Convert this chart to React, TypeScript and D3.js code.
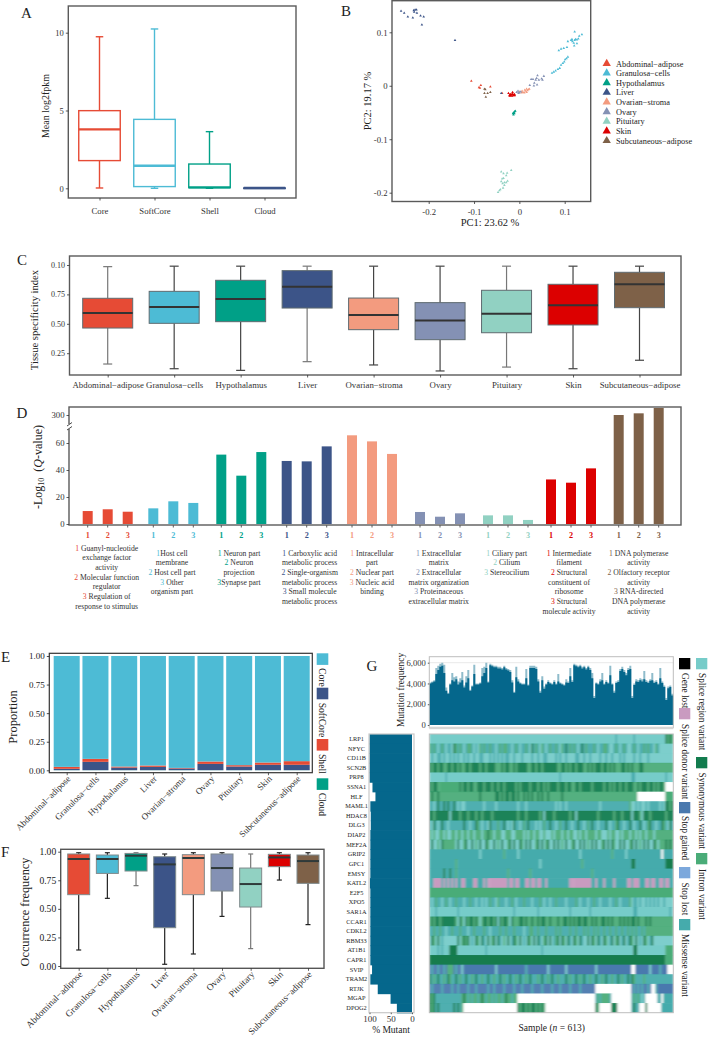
import React, { useLayoutEffect, useRef } from "react";
import * as d3 from "d3";

const FONT = "'Liberation Serif','Times New Roman',serif";
const TISSUES = ["Abdominal−adipose","Granulosa−cells","Hypothalamus","Liver","Ovarian−stroma","Ovary","Pituitary","Skin","Subcutaneous−adipose"];
const TISSUE_COLORS = ["#E64B35","#4DBBD5","#00A087","#3C5488","#F39B7F","#8491B4","#91D1C2","#DC0000","#7E6148"];

// A
const PAN_GROUPS = ["Core","SoftCore","Shell","Cloud"];
const PAN_COLORS = ["#E64B35","#4DBBD5","#00A087","#3C5488"];
const PAN_LOW = [0.02,0.0,0.0,0.02];
const PAN_Q1 = [1.78,0.11,0.04,0.02];
const PAN_MED = [3.79,1.45,0.06,0.02];
const PAN_Q3 = [4.99,4.43,1.56,0.02];
const PAN_HIGH = [9.74,10.24,3.64,0.02];

// B
const PCA_POINTS: number[][][] = [
  [[-.106,.009],[-.085,.001],[-.089,-.003],[-.087,-.004],[-.064,-.002],[-.038,-.014],[-.020,-.017],[-.016,-.015]],
  [[.072,.024],[.076,.026],[.080,.028],[.085,.031],[.089,.033],[.092,.039],[.096,.042],[.099,.045],[.101,.049],[.104,.051],[.107,.054],[.087,.066],[.092,.069],[.098,.070],[.105,.072],[.107,.083],[.114,.085],[.117,.083],[.120,.080],[.122,.085],[.124,.087],[.127,.086],[.130,.088],[.122,.101],[.138,.096],[.121,.075],[.127,.079],[.132,.093],[.116,.087]],
  [[-.014,-.052],[-.012,-.050],[-.010,-.048],[-.013,-.054],[-.011,-.052],[-.013,-.051],[-.009,-.047]],
  [[-.261,.140],[-.254,.136],[-.246,.129],[-.235,.127],[-.233,.141],[-.230,.142],[-.227,.142],[-.232,.138],[-.226,.136],[-.218,.131],[-.211,.129],[-.215,.114],[-.142,.085],[-.040,-.014]],
  [[0,-.011],[.005,-.013],[.008,-.012],[.011,-.013],[.014,-.010],[.016,-.012],[.018,-.009],[.020,-.007],[.012,-.008],[.022,-.006],[.016,-.006],[.006,-.010]],
  [[-.006,-.012],[-.003,-.010],[0,-.013],[.003,-.011],[-.002,-.014],[.026,.012],[.030,.012],[.040,.019],[.038,.014],[.043,.011],[.051,.011],[.054,.018],[.033,.005],[.032,0],[.039,.002],[.023,.001],[.049,.013],[.036,.011]],
  [[-.018,-.158],[-.040,-.161],[-.035,-.164],[-.027,-.163],[-.029,-.168],[-.038,-.174],[-.035,-.173],[-.026,-.178],[-.040,-.179],[-.033,-.181],[-.037,-.183],[-.029,-.181],[-.036,-.191],[-.042,-.194],[-.047,-.199],[-.044,-.196],[-.033,-.186]],
  [[-.022,-.018],[-.020,-.016],[-.018,-.017],[-.015,-.016],[-.013,-.018],[-.011,-.016],[-.016,-.019],[-.021,-.019],[-.019,-.018],[-.012,-.017],[-.010,-.018],[-.024,-.014],[-.015,-.012]],
  [[-.077,-.006],[-.075,-.007],[-.077,-.014],[-.064,-.012],[-.070,-.014],[-.074,-.021]],
];

// C
const TSI_LOW = [.158,.118,.104,.178,.150,.099,.132,.118,.190];
const TSI_Q1 = [.464,.504,.518,.634,.450,.365,.424,.490,.637];
const TSI_MED = [.592,.643,.711,.815,.575,.527,.586,.657,.836];
const TSI_Q3 = [.717,.776,.870,.952,.719,.680,.785,.836,.938];
const TSI_HIGH = [.986,.990,.990,.990,.990,.990,.990,.990,.990];
const TSI_TICKS = [0.25,0.5,0.75,1];
const TSI_TICK_LABELS = ["0.25","0.50","0.75","0.10"];

// D
const GO_VALUES = [
  [9.6,10.9,9.1],[11.6,16.8,15.6],[51.4,35.8,53.3],[46.7,46.4,57.5],[65.7,61.2,51.9],
  [8.9,5.4,7.9],[6.4,6.4,3.0],[33,30.6,41.2],[300,306,325],
];
const GO_TICKS = [0,20,40,60,300];
const GO_RANKS = ["1","2","3"];
const GO_TERMS = [
  ["1 Guanyl-nucleotide","exchange factor","activity","2 Molecular function","regulator","3 Regulation of","response to stimulus"],
  ["1Host cell","membrane","2 Host cell part","3 Other","organism part"],
  ["1 Neuron part","2 Neuron","projection","3Synapse part"],
  ["1 Carboxylic acid","metabolic process","2 Single-organism","metabolic process","3 Small molecule","metabolic process"],
  ["1 Intracellular","part","2 Nuclear part","3 Nucleic acid","binding"],
  ["1 Extracellular","matrix","2 Extracellular","matrix organization","3 Proteinaceous","extracellular matrix"],
  ["1 Ciliary part","2 Cilium","3 Stereocilium"],
  ["1 Intermediate","filament","2 Structural","constituent of","ribosome","3 Structural","molecule activity"],
  ["1 DNA polymerase","activity","2 Olfactory receptor","activity","3 RNA-directed","DNA polymerase","activity"],
];

// E
const PROP_KEYS = ["Cloud","SoftCore","Shell","Core"];
const PROP_COLORS: Record<string,string> = { Core:"#4DBBD5", SoftCore:"#3C5488", Shell:"#E64B35", Cloud:"#00A087" };
const PROP_CLOUD = [.001,.001,.001,.001,.001,.001,.001,.001,.001];
const PROP_SOFT = [.012,.073,.023,.029,.015,.055,.032,.047,.047];
const PROP_SHELL = [.017,.026,.009,.012,.005,.021,.012,.020,.032];
const PROP_CORE = [.970,.900,.967,.958,.979,.923,.955,.932,.920];
const PROP_LEGEND = ["Core","SoftCore","Shell","Cloud"];

// F
const OCC_LOW = [.140,.592,.703,.015,.105,.434,.152,.752,.362];
const OCC_Q1 = [.624,.810,.831,.335,.624,.656,.516,.869,.723];
const OCC_MED = [.936,.936,.965,.889,.945,.857,.717,.950,.918];
const OCC_Q3 = [.980,.971,.985,.956,.974,.980,.857,.977,.971];
const OCC_HIGH = [.991,.991,.991,.980,.991,.991,.980,.991,.991];

// G
const MUT_PEAK = [
  4100,4200,4300,5500,5700,5900,6000,5800,3600,3100,
  4000,5000,4600,4700,4200,4500,5100,3800,4700,5300,
  3400,3800,5800,4000,4000,4100,5500,5600,6000,4200,
  5900,5800,5700,5700,5600,5600,5500,5700,5500,5400,
  5300,4300,3200,5600,4400,4100,4000,4000,5400,3900,
  5700,5700,5700,5600,4400,3300,4700,3700,4000,4300,
  4100,4000,4300,4000,4900,4100,4000,3900,4400,4200,
  5500,4300,5900,5800,5700,5800,5600,5700,5500,5700,
  5500,5000,2800,4100,4000,4400,5000,4000,4300,4100,
  5700,4000,3300,4200,4300,5400,5600,5300,5000,5500,
  5700,2800,4000,4400,4300,4500,4400,5200,4300,4200,
  4400,5000,4200,4300,4000,5500,4200,3800,2600,3700,3800,3000,
];
const MUT_BASE = [
  4000,4100,4200,4900,5300,5600,5700,5000,3300,3000,
  3900,4300,4200,4400,3900,4100,4300,3600,4100,4500,
  3300,3700,4900,3900,3900,4000,4700,5000,5500,4100,
  5750,5650,5550,5550,5450,5450,5350,5550,5350,5250,
  5100,4100,3100,4600,4200,4000,3900,3900,4500,3800,
  5500,5500,5500,5400,4200,3100,4300,3500,3900,4150,
  4000,3900,4150,3900,4200,4000,3900,3800,4100,4050,
  4700,4150,5750,5650,5550,5650,5450,5550,5350,5550,
  5300,4500,2600,4000,3900,4200,4300,3900,4150,4000,
  4800,3900,3100,4050,4150,5200,5400,5100,4800,5300,
  5400,2600,3850,4200,4150,4300,4200,4400,4150,4050,
  4250,4300,4050,4150,3900,4500,4050,3650,2400,3550,3650,2850,
];
const MUT_TICKS = [0,2000,4000,6000];
const GENES = ["LRP1","NFYC","CD11B","SCN2B","PRP8","SSNA1","HLF","MAML1","HDAC8","DLG3","DIAP2","MEF2A","GRIP2","GPC1","EMSY","KATL2","E2F5","XPO5","SAR1A","CCAR1","CDKL2","RBM33","AT1B1","CAPR1","SVIP","TRAM2","RTJK","MGAP","DPOG2"];
const GENE_PCT = [100,100,100,100,100,93,86,98,97,97,98,98,98,98,98,99,98,98,98,98,98,98,98,98,94,98,80.6,50.4,35.6];
const VARIANT_COLORS: Record<string,string> = { R:"#76CCC9", S:"#127C4E", I:"#4AAC78", M:"#45ABAC", P:"#4A79AE", D:"#C99BC0", L:"#7CA8DC", X:"#000000", W:"#FFFFFF" };
const VARIANT_LEGEND = [
  ["Gene lost","X",0,658,673],["Splice region variant","R",1,658,673],
  ["Splice donor variant","D",0,708,724],["Synonymous variant","S",1,757,772.5],
  ["Stop gained","P",0,802,816],["Intron variant","I",1,853,869],
  ["Stop lost","L",0,867,882.5],["Missense variant","M",0,919,934],
];
const ONCO_ROWS = [
  "R93 M1 R8 M1 R15 S1 I1 S1 I1",
  "IMIMRMIMRM MRSIMIMRMI IMRMRIMIMM IMMRMIMIIM MRMIMRMMIM RSMIMRIMRM IMMIMRIMSM IMIMRMSMIM MMIMRMMIIM RRMIMRMIMR RMIMRMMIMI MMRIMRRRRR RR",
  "RMRRMMRMRR MRMRMRRMRM RRMRRMMRRR MRMRMRMRMM RRMRRRMRRR RMRRMRRMMR RRRMRMRRMR RRRMMRRMRR MRRRRMRRMR RMRRRMRMRR RRMRRMRRRM RRRRRRRRRR RR",
  "SISSISSIIS SISSISIISS ISSSSISSIS SSSIIISISS IISISSSSSI ISSISSISSS SSSSIISSIS ISSISSSIIS ISISSSISSI SISIIISSIS ISIIISSIII IIIIIIIIII II",
  "R8 M1 R56 M1 R35 M2 R15 M1 R3",
  "SISSI I10 SISSISSIIS SSISSSISSI SSISSSSSIS ISSSSISSSI SSISISSSSI SSSISSIISS ISSSSSISSS SSISSISISS ISSISSSIIS ISSSISSISI SSI W4",
  "ISIISIIIII IIIIIIIIII IIIIISIIII IIISSISISS ISSISIISIS ISIISISIIS IIIIIISIII IIIIIIIIII IIIIIIIIII IIIIIIIIII IIII W14 I4",
  "MMRMSMMSMS MMSMRMRRMM MMMMMMMRMM MMMRMMMMMM MMMMRMMMRM MMMMMMMMMM MMMRMRMMRM MMMMMMMMMM MMMMMRMMMM MMMMMMMMMM IRRMRMRRMR MMMMMRMRSS IS",
  "SSISSSSSSS RSSSSISSSI SSSISSISSS SISSSSSSSS SSSSISSSIS SSSSSISRSS SSISSSSSSS ISSRSSSSSS SSSSISSSSS SSISSSISSS SRSSSIRSSS ISSSSSSSIS SS",
  "MRSMRMSMMR MMMMMMMSMM RMMSIMRMMR SMMMIMMSMR MRSMMRMIMS MMMRMRMIMM SMMRMIMMSM MRMMSMMRMI MSMMRMMMSM RMMISMMRMM SMRMMSMRMI SMMRMMSIMR SM",
  "IRIRRIIRIR RIIRIIRIIR IIRIIIRIIS IIRIIIRRII IRRIIIIRIR IIRIIRRIRR RIRIIIRIIR IIRRIRIIRI IIIRIIRRRI RIIRRIRIII RIIRIRIIRI IIRIIIIIII II",
  "RSRRIRSIII IIIRSRRISR RSRIRSRRSI RRSRIRSRRI SRSRRSIRSR SRRISRSRIS RRSRSRIRSR RISRRSRSRI RSRSRRISRS RSIRRSRSRR ISRSRIRSRS RRSIRIIISI SI",
  "M25 R1 M11 I1 M6 R1 M30 R1 M15 I1 M6 R1 M17 W1 M5",
  "M13 I1 M41 R1 M20 I1 M24 S2 M15 S4",
  "M7 S1 M2 S1 M2 I1 M25 I1 M10 I1 M30 I1 M40",
  "M2 D4 M1 D1 M1 D1 M1 D1 M1 D1 M2 D2 M4 D2 M3 D1 M1 D1 D9 M1 D2 M1 D2 M3 D2 M1 D2 M1 D2 M2 D1 M11 D2 D9 M2 D1 M3 D1 M4 D1 M6 D2 M1 D3 M3 D2 M1 D2 M2 D2 M1 D2 M2",
  "I122",
  "MRMIMMRMIM RMMIMMMRMM IMMRMMRMRM IMMRIMMMRM MIMRMMMIMM MRMMMIMRMM RMMIMMMMRM MMMIMRMMMR MMIMMRMMMM RMMIMRMMMM IRMMRMRRMR MRMRMRRMRR RR",
  "R3 M1 R10 M1 R27 M1 R11 M1 R15 M1 R9 M1 R21 M2 R16 M1 R1",
  "ISISSISSSS SSSIRSIRSI SSISIRISSI SSISRSISSI RSIIISSISI ISIISISSII SIIISIISSI SISISSISSI ISISIISSIS ISIIISISIS ISSISIIISI SIIIIIIIII II",
  "MMIMMIMMRM MIMMMIMMMR MMIMMMMIMM RMMMMIMMIM MMIMMMMRMM IIMMIMMMIM MMMIMIMMMM IMMIMMMIMI MMIMIMMIMM IMMIMMIMMI MIMIMMIMII IIIIIIIIII II",
  "RSIRSRMRRR RRRRSRISIS RMRSIRSMRS RISRSMRIRS RMSIRSRMRS IRSRSMRISR SRMISRSIRS MRSIRSMRRS RSIRSMRSIR MSRISRMSRM SIRSRMRSIR MSRRRRRRRR RR",
  "R4 M1 R1 M1 R3 S4 R14 M1 R27 M1 R45 S2 R14 I4",
  "S118 I4",
  "PMPPMPPMP III PMPP R1 P16 R1 P14 M1 P10 R1 P8 R1 P14 R1 P17 W2 P7 R1 P4 M1 P3 W3",
  "SMIMSMMIMS IMMSMIMMSM MIMSMMIMMS MMIMMSMIMM SMMIMSMMIM SMMMIMSMMI MSMMIMMMSM IMMSMIMSMM IMMSMMIMSM MIMMSMIMMS MSIMMMMIMM MMMMMMMMMM MM",
  "PMPPPPMPPP PMPPMPPPPM PPPMPPPPPM PPMPPPPMPP PPMPPPMPPP PMPPPPMPPP PMPPPMPPPP MPPPPMPPPP PPP W18 PMPMPMPPMP W2 M1 P8",
  "SISMMMMMMM MMMMMMISIM IMIIMISIMI IMIMIIMISI IMII W39 MIMIIIIM W10 MIMIMRM W6 MM W1 M5",
  "SISMSMMMMM MMSMSMI W27 SISSISISSI SISI W25 SI W6 SSS W7 MSMM W3 S W7 M6",
];
const ONCO_COLUMNS = 122;

const FRAME = "#5a5a5a";

type AxisProps = { kind:"left"|"bottom"; scale:any; x?:number; y?:number; values?:any[]; format?:(v:any,i:number)=>string; size?:number; font:number; rotate?:boolean; color?:string; pad?:number };
function Axis({ kind, scale, x=0, y=0, values, format, size=2.5, font, rotate, color="#333", pad=2 }: AxisProps) {
  const ref = useRef<SVGGElement>(null);
  useLayoutEffect(() => {
    const a = kind === "left" ? d3.axisLeft(scale) : d3.axisBottom(scale);
    a.tickSize(size).tickPadding(pad);
    if (values) a.tickValues(values);
    if (format) a.tickFormat(format as any);
    const g = d3.select(ref.current as SVGGElement);
    g.call(a as any);
    g.select(".domain").remove();
    g.selectAll(".tick line").attr("stroke", color).attr("stroke-width", 0.8);
    const t = g.selectAll(".tick text").attr("fill", color).attr("font-size", font).attr("font-family", FONT);
    if (rotate) t.attr("transform","rotate(-45)").attr("text-anchor","end").attr("dx","-2").attr("dy","3");
  });
  return <g ref={ref} transform={`translate(${x},${y})`} />;
}

type BoxStyle = { fill:(i:number)=>string; stroke:(i:number)=>string; box:number; whisker:(i:number)=>string; whiskerW:number; median:(i:number)=>string; medianW:number; w:number; cap:number };
function Boxes({ xs, y, low, q1, med, q3, high, s }: { xs:number[]; y:any; low:number[]; q1:number[]; med:number[]; q3:number[]; high:number[]; s:BoxStyle }) {
  return <g>{xs.map((x,i) => (
    <g key={i}>
      <line x1={x} x2={x} y1={y(high[i])} y2={y(q3[i])} stroke={s.whisker(i)} strokeWidth={s.whiskerW}/>
      <line x1={x} x2={x} y1={y(q1[i])} y2={y(low[i])} stroke={s.whisker(i)} strokeWidth={s.whiskerW}/>
      <line x1={x-s.cap/2} x2={x+s.cap/2} y1={y(high[i])} y2={y(high[i])} stroke={s.whisker(i)} strokeWidth={s.whiskerW}/>
      <line x1={x-s.cap/2} x2={x+s.cap/2} y1={y(low[i])} y2={y(low[i])} stroke={s.whisker(i)} strokeWidth={s.whiskerW}/>
      <rect x={x-s.w/2} width={s.w} y={y(q3[i])} height={Math.max(0.5,y(q1[i])-y(q3[i]))} fill={s.fill(i)} stroke={s.stroke(i)} strokeWidth={s.box}/>
      <line x1={x-s.w/2} x2={x+s.w/2} y1={y(med[i])} y2={y(med[i])} stroke={s.median(i)} strokeWidth={s.medianW}/>
    </g>
  ))}</g>;
}

const Label = ({ x, y, size=10, rot, children, anchor="middle", fill="#222" }: any) => (
  <text x={x} y={y} fontSize={size} textAnchor={anchor} fill={fill} fontFamily={FONT}
    transform={rot ? `rotate(${rot} ${x} ${y})` : undefined}>{children}</text>
);
const Frame = ({ x0, x1, y0, y1, color=FRAME, w=1.4 }: any) => (
  <rect x={x0} y={y0} width={x1-x0} height={y1-y0} fill="none" stroke={color} strokeWidth={w}/>
);

function parseRow(s: string) {
  const runs: { code:string; start:number; len:number }[] = [];
  let pos = 0;
  for (const m of s.matchAll(/([A-Z])(\d*)/g)) {
    const len = m[2] ? +m[2] : 1;
    runs.push({ code:m[1], start:pos, len });
    pos += len;
  }
  return runs;
}

export default function App() {
  // A
  const xA = d3.scalePoint().domain(PAN_GROUPS).range([99.5,264.5]);
  const yA = d3.scaleLinear().domain([0,10]).range([188.3,32.7]);
  // B
  const xB = d3.scaleLinear().domain([-.2,.1]).range([428.7,564.7]);
  const yB = d3.scaleLinear().domain([-.2,.1]).range([192.7,32.3]);
  const tri = d3.symbol().type(d3.symbolTriangle);
  // C
  const xC = d3.scalePoint().domain(TISSUES).range([107.7,639.5]);
  const yC = d3.scaleLinear().domain([0,1]).range([382.6,265]);
  // D
  const dCenters = [107.7,173.3,241.3,306.7,372,440,508,571,638.7];
  const dOff = d3.scalePoint().domain(GO_RANKS).range([-20,20]);
  const yD = d3.scaleLinear().domain([0,70,300,340]).range([524,429.5,415,403.8]);
  // E
  const xE = d3.scalePoint().domain(TISSUES).range([66.7,296.7]);
  const yE = d3.scaleLinear().domain([0,1]).range([770.3,656]);
  const propRows = TISSUES.map((t,i) => ({ t, Cloud:PROP_CLOUD[i], SoftCore:PROP_SOFT[i], Shell:PROP_SHELL[i], Core:PROP_CORE[i] }));
  const stacked = d3.stack<any>().keys(PROP_KEYS)(propRows);
  // F
  const xF = d3.scalePoint().domain(TISSUES).range([78.7,308]);
  const yF = d3.scaleLinear().domain([0,1]).range([966,851.7]);
  // G
  const xG = d3.scaleLinear().domain([0,ONCO_COLUMNS]).range([429.3,673.3]);
  const yG = d3.scaleLinear().domain([0,6000]).range([725,662.7]);
  const rowG = d3.scaleBand().domain(GENES).range([734,1012.7]);
  const pctG = d3.scaleLinear().domain([0,100]).range([412,369.5]);
  const area = (vals:number[]) => d3.area<number>().x((_,i)=>xG(i)).y0(yG(0)).y1(d=>yG(d)).curve(d3.curveStepAfter)([...vals, vals[vals.length-1]]) as string;

  const boxC: BoxStyle = { fill:i=>TISSUE_COLORS[i], stroke:()=>"#5f6b70", box:1, whisker:i=>(i%3===0?"#777":"#444"), whiskerW:1.2, median:()=>"#333", medianW:2, w:50, cap:9 };
  const boxF: BoxStyle = { fill:i=>TISSUE_COLORS[i], stroke:()=>"#7f8a8c", box:1, whisker:i=>(i===2||i===6?"#777":"#222"), whiskerW:1.2, median:()=>"#2f3a3a", medianW:2, w:22, cap:5 };
  const boxA: BoxStyle = { fill:()=>"#fff", stroke:i=>PAN_COLORS[i], box:1.4, whisker:i=>PAN_COLORS[i], whiskerW:1.4, median:i=>PAN_COLORS[i], medianW:2.4, w:41.5, cap:7.5 };

  return (
    <svg width={708} height={1039} viewBox="0 0 708 1039" style={{ position:"absolute", left:0, top:0, display:"block", background:"#fff" }} fontFamily={FONT}>
      <defs>
        <filter id="soft" x="-2%" y="-1%" width="104%" height="102%">
          <feGaussianBlur stdDeviation="0.8 0.25"/>
        </filter>
        <clipPath id="onco"><rect x={429.3} y={734} width={244} height={278.7}/></clipPath>
      </defs>
      {/* Panel letters */}
      <Label x={21} y={18} size={15} anchor="start">A</Label>
      <Label x={341} y={16} size={15} anchor="start">B</Label>
      <Label x={17} y={265} size={15} anchor="start">C</Label>
      <Label x={16.5} y={418} size={15} anchor="start">D</Label>
      <Label x={1} y={662} size={15} anchor="start">E</Label>
      <Label x={1} y={857} size={15} anchor="start">F</Label>
      <Label x={366.5} y={671} size={15} anchor="start">G</Label>

      {/* A */}
      <Boxes xs={PAN_GROUPS.map(g=>xA(g) as number)} y={yA} low={PAN_LOW} q1={PAN_Q1} med={PAN_MED} q3={PAN_Q3} high={PAN_HIGH} s={boxA}/>
      <Frame x0={68.3} x1={296} y0={6} y1={198}/>
      <Axis kind="left" scale={yA} x={68.3} values={[0,5,10]} font={8.5} format={d=>String(d)}/>
      <Axis kind="bottom" scale={xA} y={198} font={8.7} pad={7}/>
      <Label x={49} y={106} size={10} rot={-90}>Mean log2fpkm</Label>

      {/* B */}
      <g>{PCA_POINTS.map((pts,i)=>pts.map((p,j)=>(
        <path key={`${i}-${j}`} d={tri.size(3)() as string} transform={`translate(${xB(p[0])},${yB(p[1])})`} fill={TISSUE_COLORS[i]}/>
      )))}</g>
      <Frame x0={392} x1={590.7} y0={0.7} y1={201.5}/>
      <Axis kind="left" scale={yB} x={392} values={[-.2,-.1,0,.1]} font={8.7} format={d=>d===0?"0":String(d)}/>
      <Axis kind="bottom" scale={xB} y={201.5} values={[-.2,-.1,0,.1]} font={8.7} format={d=>d===0?"0":String(d)} pad={5}/>
      <Label x={490} y={225.5} size={10.5}>PC1: 23.62 %</Label>
      <Label x={371} y={101} size={10.5} rot={-90}>PC2: 19.17 %</Label>
      {TISSUES.map((t,i)=>{
        const ly = 63.5+i*9.65;
        return <g key={t}>
          <path d={tri.size(30)() as string} transform={`translate(606.7,${ly})`} fill={TISSUE_COLORS[i]}/>
          <Label x={616} y={ly+3} size={8.3} anchor="start">{t}</Label>
        </g>;
      })}

      {/* C */}
      <Boxes xs={TISSUES.map(t=>xC(t) as number)} y={yC} low={TSI_LOW} q1={TSI_Q1} med={TSI_MED} q3={TSI_Q3} high={TSI_HIGH} s={boxC}/>
      <Frame x0={69.5} x1={681} y0={256} y1={375}/>
      <Axis kind="left" scale={yC} x={69.5} values={TSI_TICKS} font={8} format={(_,i)=>TSI_TICK_LABELS[i]}/>
      <Axis kind="bottom" scale={xC} y={375} font={8.8} pad={4}/>
      <Label x={38} y={320} size={10.6} rot={-90}>Tissue specificity index</Label>

      {/* D */}
      {GO_VALUES.map((vals,g)=>vals.map((v,r)=>{
        const x = dCenters[g]+(dOff(GO_RANKS[r]) as number);
        return <g key={`${g}-${r}`}>
          <rect x={x-5} width={10} y={yD(v)} height={yD(0)-yD(v)} fill={TISSUE_COLORS[g]}/>
          <line x1={x} x2={x} y1={525} y2={527.5} stroke="#333" strokeWidth={0.8}/>
          <Label x={x} y={538} size={8.2} fill={TISSUE_COLORS[g]}><tspan fontWeight="bold">{GO_RANKS[r]}</tspan></Label>
        </g>;
      }))}
      <Frame x0={69} x1={681} y0={407} y1={525}/>
      <Axis kind="left" scale={yD} x={69} values={GO_TICKS} font={8.7} format={d=>String(d)}/>
      <rect x={66} y={424} width={6} height={5} fill="#fff"/>
      <path d="M67 426 L72 422.5 M67 430 L72 426.5" stroke="#333" strokeWidth={0.9} fill="none"/>
      <text transform="translate(42,467) rotate(-90)" fontSize={12} textAnchor="middle" fill="#222" fontFamily={FONT}>
        -Log<tspan fontSize={8} dy={2}>10</tspan><tspan dy={-2} xmlSpace="preserve">  (</tspan><tspan fontStyle="italic">Q</tspan>-value)
      </text>
      {GO_TERMS.map((lines,g)=>{
        const cx = [106.7,172,239,309.7,372,438.7,506.7,569,638.7][g];
        const y0 = g===0 ? 550.5 : 555.5;
        return <g key={g}>{lines.map((ln,k)=>{
          const m = ln.match(/^(\d)(.*)$/);
          return <text key={k} x={cx} y={y0+k*9.7} fontSize={7.7} textAnchor="middle" fill="#333" fontFamily={FONT}>
            {m ? <><tspan fill={TISSUE_COLORS[g]}>{m[1]}</tspan>{m[2]}</> : ln}
          </text>;
        })}</g>;
      })}

      {/* E */}
      {stacked.map(layer=>(
        <g key={layer.key} fill={PROP_COLORS[layer.key]}>
          {layer.map((d:any,i:number)=>(
            <rect key={i} x={(xE(TISSUES[i]) as number)-13} width={26} y={yE(d[1])} height={Math.max(0,yE(d[0])-yE(d[1]))}/>
          ))}
        </g>
      ))}
      <Frame x0={49.3} x1={312.3} y0={653.3} y1={772.7} color="#333" w={1.2}/>
      <Axis kind="left" scale={yE} x={49.3} values={[0,.25,.5,.75,1]} font={9} format={d=>d3.format(".2f")(d)} color="#222"/>
      <Axis kind="bottom" scale={xE} y={772.7} font={9} rotate color="#333"/>
      <Label x={17} y={717} size={12.5} rot={-90}>Proportion</Label>
      {PROP_LEGEND.map((k,i)=>{
        const sy = [653.3,687.7,739,778.3][i]; const ty = [668,702.7,754,792.7][i];
        return <g key={k}>
          <rect x={316.7} y={sy} width={11.6} height={11.6} fill={PROP_COLORS[k]}/>
          <Label x={318.5} y={ty} size={9.6} rot={90} anchor="start">{k}</Label>
        </g>;
      })}

      {/* F */}
      <Boxes xs={TISSUES.map(t=>xF(t) as number)} y={yF} low={OCC_LOW} q1={OCC_Q1} med={OCC_MED} q3={OCC_Q3} high={OCC_HIGH} s={boxF}/>
      <Frame x0={60.7} x1={324} y0={849.3} y1={968.3} color="#555"/>
      <Axis kind="left" scale={yF} x={60.7} values={[0,.25,.5,.75,1]} font={9.6} format={d=>d3.format(".2f")(d)} color="#222"/>
      <Axis kind="bottom" scale={xF} y={968.3} font={9.3} rotate color="#333"/>
      <Label x={29} y={912} size={12.3} rot={-90}>Occurrence frequency</Label>

      {/* G top */}
      <line x1={429.3} x2={673.3} y1={yG(6000)} y2={yG(6000)} stroke="#e2e2e2" strokeWidth={0.8}/>
      <path d={area(MUT_PEAK)} fill="#8fbccb"/>
      <path d={area(MUT_BASE)} fill="#05678C"/>
      <rect x={429.3} y={656.7} width={244} height={71} fill="none" stroke="#bdbdbd" strokeWidth={1}/>
      <rect x={429.3} y={726.7} width={244} height={2.5} fill="#d6d6d6"/>
      <Axis kind="left" scale={yG} x={429.3} values={MUT_TICKS} size={1.5} font={8.6} format={d=>d3.format(",")(d)}/>
      <Label x={404} y={690} size={9.4} rot={-90}>Mutation frequency</Label>

      {/* G heatmap */}
      <g clipPath="url(#onco)">
        <g filter="url(#soft)">
          {ONCO_ROWS.map((s,r)=>parseRow(s).map((run,k)=>(
            <rect key={`${r}-${k}`} x={xG(run.start)} width={xG(run.len)-xG(0)+0.3} y={rowG(GENES[r]) as number} height={rowG.bandwidth()+0.6} fill={VARIANT_COLORS[run.code]}/>
          )))}
        </g>
      </g>
      <rect x={429.3} y={734} width={244} height={278.7} fill="none" stroke="#bdbdbd" strokeWidth={1}/>

      {/* G left */}
      {GENES.map((g,i)=>(
        <g key={g}>
          <rect x={pctG(GENE_PCT[i])} width={pctG(0)-pctG(GENE_PCT[i])} y={rowG(g) as number} height={rowG.bandwidth()+0.7} fill="#05678C"/>
          <Label x={356.5} y={(rowG(g) as number)+rowG.bandwidth()/2+2.2} size={6.3}>{g}</Label>
        </g>
      ))}
      <rect x={369} y={734} width={45} height={278.7} fill="none" stroke="#c8c8c8" strokeWidth={1.2}/>
      <Axis kind="bottom" scale={pctG} y={1012.7} values={[0,50,100]} size={1.5} font={9} pad={1} format={d=>String(d)}/>
      <Label x={391} y={1033} size={9.5}>% Mutant</Label>
      <text x={551.7} y={1031} fontSize={9.5} textAnchor="middle" fill="#222" fontFamily={FONT}>Sample (<tspan fontStyle="italic">n</tspan> = 613)</text>

      {/* G legend */}
      {VARIANT_LEGEND.map(([name,code,col,sy,ty]:any)=>{
        const sx = col===0 ? 679 : 696;
        return <g key={name}>
          <rect x={sx} y={sy} width={11.3} height={11.3} fill={VARIANT_COLORS[code]}/>
          <Label x={sx+2.5} y={ty} size={9.3} rot={90} anchor="start">{name}</Label>
        </g>;
      })}
    </svg>
  );
}
